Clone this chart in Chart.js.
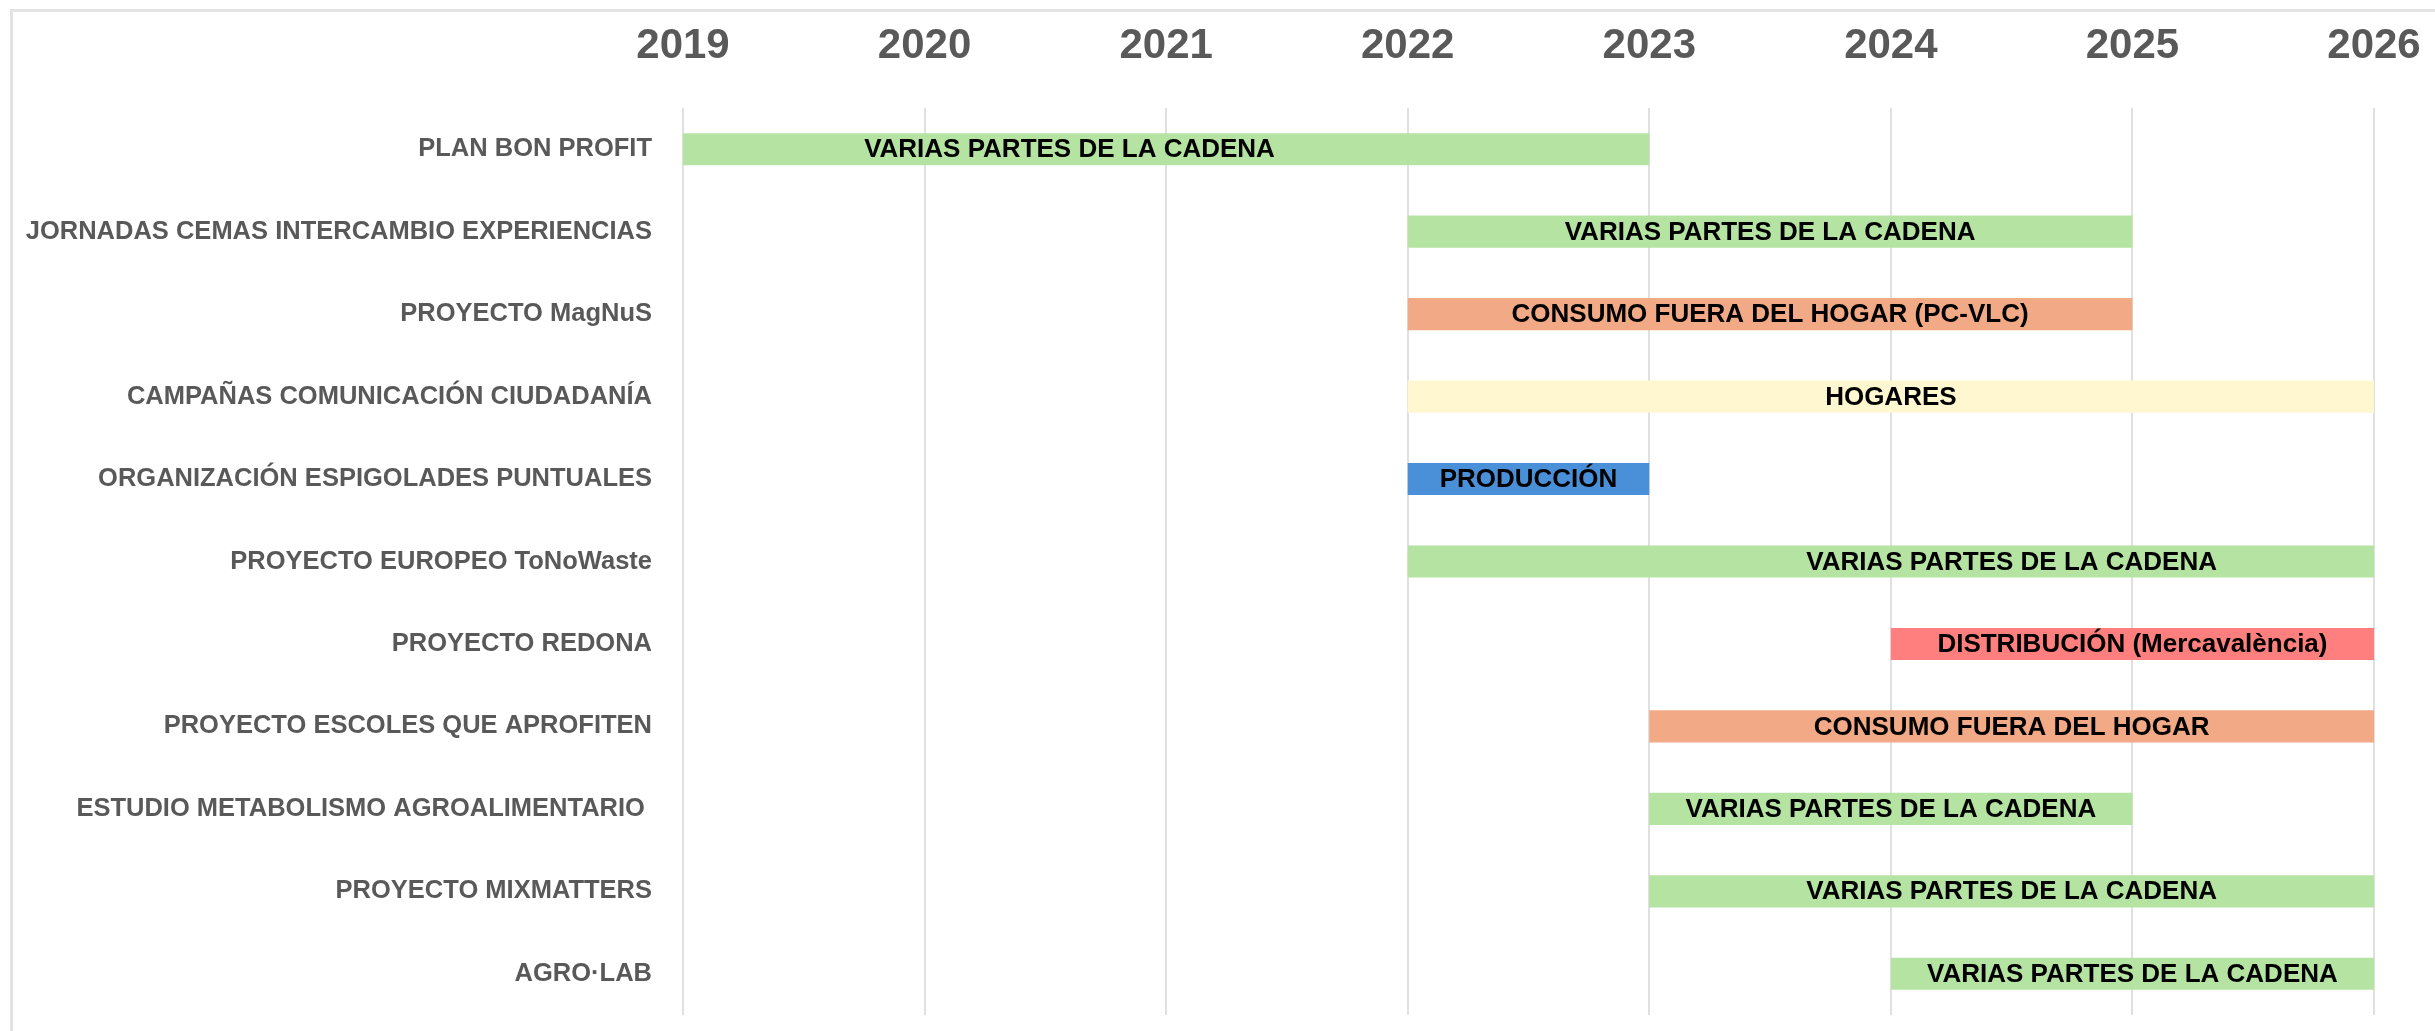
<!DOCTYPE html>
<html lang="es">
<head>
    <meta charset="UTF-8">
    <title>Cronograma de proyectos</title>
    <script src="https://cdn.jsdelivr.net/npm/chart.js"></script>
    <style>
        html, body {
            margin: 0;
            padding: 0;
            background: #fff;
            overflow: hidden;
        }
        #frame {
            position: absolute;
            left: 10px;
            top: 9px;
            width: 2430px;
            height: 1030px;
            border-left: 3px solid #e3e3e3;
            border-top: 3px solid #e3e3e3;
        }
        #myChart {
            position: absolute;
            left: 0;
            top: 0;
        }
    </style>
</head>
<body>
    <div id="frame"></div>
    <canvas id="myChart" width="2435" height="1031"></canvas>

    <script>
        // Projects (top to bottom)
        const projects = [
            'PLAN BON PROFIT',
            'JORNADAS CEMAS INTERCAMBIO EXPERIENCIAS',
            'PROYECTO MagNuS',
            'CAMPAÑAS COMUNICACIÓN CIUDADANÍA',
            'ORGANIZACIÓN ESPIGOLADES PUNTUALES',
            'PROYECTO EUROPEO ToNoWaste',
            'PROYECTO REDONA',
            'PROYECTO ESCOLES QUE APROFITEN',
            'ESTUDIO METABOLISMO AGROALIMENTARIO ',
            'PROYECTO MIXMATTERS',
            'AGRO·LAB'
        ];
        const startYears = [2019, 2022, 2022, 2022, 2022, 2022, 2024, 2023, 2023, 2023, 2024];
        const endYears   = [2023, 2025, 2025, 2026, 2023, 2026, 2026, 2026, 2025, 2026, 2026];

        // Part of the food chain each project works on
        const barLabels = [
            'VARIAS PARTES DE LA CADENA',
            'VARIAS PARTES DE LA CADENA',
            'CONSUMO FUERA DEL HOGAR (PC-VLC)',
            'HOGARES',
            'PRODUCCIÓN',
            'VARIAS PARTES DE LA CADENA',
            'DISTRIBUCIÓN (Mercavalència)',
            'CONSUMO FUERA DEL HOGAR',
            'VARIAS PARTES DE LA CADENA',
            'VARIAS PARTES DE LA CADENA',
            'VARIAS PARTES DE LA CADENA'
        ];
        // where the label sits (year); null = middle of the bar
        const labelAt = [2020.6, null, null, null, null, 2024.5, null, null, null, null, null];

        const years = [2019, 2020, 2021, 2022, 2023, 2024, 2025, 2026];

        const sectorColors = {
            'VARIAS': '#b4e3a2',
            'CONSUMO': '#f2a985',
            'HOGARES': '#fef7d0',
            'PRODUCCIÓN': '#4a90d9',
            'DISTRIBUCIÓN': '#ff7f7f'
        };

        function colorFor(label) {
            const key = Object.keys(sectorColors).find(k => label.startsWith(k));
            return sectorColors[key];
        }

        const barTextPlugin = {
            id: 'barText',
            afterDatasetsDraw(chart) {
                const ctx = chart.ctx;
                const meta = chart.getDatasetMeta(0);
                const xScale = chart.scales.x;
                ctx.save();
                ctx.font = 'bold 26px "Liberation Sans", Arial, sans-serif';
                ctx.fillStyle = '#000';
                ctx.textAlign = 'center';
                ctx.textBaseline = 'middle';
                meta.data.forEach((bar, i) => {
                    const at = labelAt[i] !== null ? labelAt[i] : (startYears[i] + endYears[i]) / 2;
                    ctx.fillText(barLabels[i], xScale.getPixelForValue(at), bar.y + 1);
                });
                ctx.restore();
            }
        };

        const ctx = document.getElementById('myChart').getContext('2d');
        new Chart(ctx, {
            type: 'bar',
            data: {
                labels: projects,
                datasets: [{
                    data: projects.map((p, i) => [startYears[i], endYears[i]]),
                    backgroundColor: barLabels.map(colorFor),
                    borderWidth: 0,
                    borderSkipped: false,
                    categoryPercentage: 1,
                    barPercentage: 0.39
                }]
            },
            options: {
                indexAxis: 'y',
                responsive: false,
                animation: false,
                devicePixelRatio: 1,
                layout: {
                    padding: { top: 0, right: 61, bottom: 16, left: 0 }
                },
                plugins: {
                    legend: { display: false },
                    tooltip: { enabled: false }
                },
                scales: {
                    x: {
                        type: 'linear',
                        position: 'top',
                        min: years[0],
                        max: years[years.length - 1],
                        afterBuildTicks(scale) {
                            scale.ticks = years.map(v => ({ value: v }));
                        },
                        afterFit(scale) {
                            scale.height = 108;
                            scale.paddingLeft = 0;
                            scale.paddingRight = 0;
                        },
                        border: { display: false },
                        grid: {
                            color: '#e0e0e0',
                            lineWidth: 2,
                            drawTicks: false
                        },
                        ticks: {
                            callback: v => String(v),
                            color: '#595959',
                            padding: 36,
                            maxRotation: 0,
                            font: { family: '"Liberation Sans", Arial, sans-serif', size: 42, weight: 'bold' }
                        }
                    },
                    y: {
                        afterFit(scale) {
                            scale.width = 683;
                            scale.paddingTop = 0;
                            scale.paddingBottom = 0;
                        },
                        border: { display: false },
                        grid: { display: false, drawTicks: false },
                        ticks: {
                            color: '#595959',
                            padding: 31,
                            autoSkip: false,
                            font: { family: '"Liberation Sans", Arial, sans-serif', size: 25.5, weight: 'bold' }
                        }
                    }
                }
            },
            plugins: [barTextPlugin]
        });
    </script>
</body>
</html>
